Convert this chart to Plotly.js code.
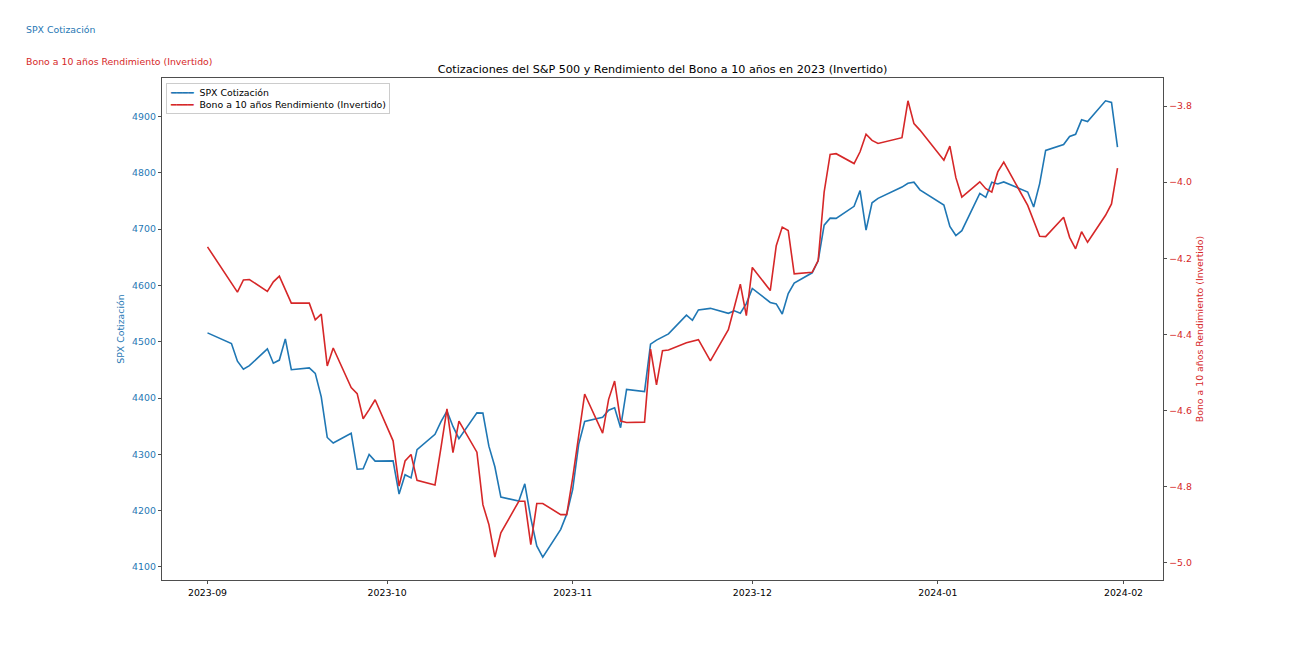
<!DOCTYPE html>
<html>
<head>
<meta charset="utf-8">
<script src="https://cdn.plot.ly/plotly-3.0.1.min.js"></script>
<style>
  html, body { margin: 0; padding: 0; background: #ffffff; }
  #chart { width: 1292px; height: 651px; }
</style>
</head>
<body>
<div id="chart"></div>
<script>
// ---- Data (trading days Sep 2023 - Jan 2024) ----
const fechas = [
  '2023-09-01','2023-09-05','2023-09-06','2023-09-07','2023-09-08','2023-09-11','2023-09-12','2023-09-13','2023-09-14','2023-09-15',
  '2023-09-18','2023-09-19','2023-09-20','2023-09-21','2023-09-22','2023-09-25','2023-09-26','2023-09-27','2023-09-28','2023-09-29',
  '2023-10-02','2023-10-03','2023-10-04','2023-10-05','2023-10-06','2023-10-09','2023-10-10','2023-10-11','2023-10-12','2023-10-13',
  '2023-10-16','2023-10-17','2023-10-18','2023-10-19','2023-10-20','2023-10-23','2023-10-24','2023-10-25','2023-10-26','2023-10-27',
  '2023-10-30','2023-10-31',
  '2023-11-01','2023-11-02','2023-11-03','2023-11-06','2023-11-07','2023-11-08','2023-11-09','2023-11-10','2023-11-13','2023-11-14',
  '2023-11-15','2023-11-16','2023-11-17','2023-11-20','2023-11-21','2023-11-22','2023-11-24','2023-11-27','2023-11-28','2023-11-29',
  '2023-11-30',
  '2023-12-01','2023-12-04','2023-12-05','2023-12-06','2023-12-07','2023-12-08','2023-12-11','2023-12-12','2023-12-13','2023-12-14',
  '2023-12-15','2023-12-18','2023-12-19','2023-12-20','2023-12-21','2023-12-22','2023-12-26','2023-12-27','2023-12-28','2023-12-29',
  '2024-01-02','2024-01-03','2024-01-04','2024-01-05','2024-01-08','2024-01-09','2024-01-10','2024-01-11','2024-01-12','2024-01-16',
  '2024-01-17','2024-01-18','2024-01-19','2024-01-22','2024-01-23','2024-01-24','2024-01-25','2024-01-26','2024-01-29','2024-01-30',
  '2024-01-31'
];

const spxCotizacion = [
  4515.77,4496.83,4465.48,4451.14,4457.49,4487.46,4461.90,4467.44,4505.10,4450.32,
  4453.53,4443.95,4402.20,4330.00,4320.06,4337.44,4273.53,4274.51,4299.70,4288.05,
  4288.39,4229.45,4263.75,4258.19,4308.50,4335.66,4358.24,4376.95,4349.61,4327.78,
  4373.63,4373.20,4314.60,4278.00,4224.16,4217.04,4247.68,4186.77,4137.23,4117.37,
  4166.82,4193.80,
  4237.86,4317.78,4358.34,4365.98,4378.38,4382.78,4347.35,4415.24,4411.55,4495.70,
  4502.88,4508.24,4514.02,4547.38,4538.19,4556.62,4559.34,4550.43,4554.89,4550.58,
  4567.80,
  4594.63,4569.78,4567.18,4549.34,4585.59,4604.37,4622.44,4643.70,4707.09,4719.55,
  4719.19,4740.56,4768.37,4698.35,4746.75,4754.63,4774.75,4781.58,4783.35,4769.83,
  4742.83,4704.81,4688.68,4697.24,4763.54,4756.50,4783.45,4780.24,4783.83,4765.98,
  4739.21,4780.94,4839.81,4850.43,4864.60,4868.55,4894.16,4890.97,4927.93,4924.97,
  4845.65
];

// 10-year yield, plotted inverted (negative values)
const bonoInvertido = [
  -4.170,-4.267,-4.289,-4.257,-4.256,-4.287,-4.262,-4.247,-4.283,-4.318,
  -4.318,-4.362,-4.347,-4.483,-4.436,-4.540,-4.556,-4.622,-4.598,-4.572,
  -4.680,-4.799,-4.733,-4.716,-4.784,-4.796,-4.698,-4.596,-4.711,-4.628,
  -4.710,-4.848,-4.900,-4.986,-4.922,-4.839,-4.839,-4.953,-4.845,-4.845,
  -4.874,-4.874,
  -4.777,-4.662,-4.557,-4.660,-4.571,-4.523,-4.628,-4.632,-4.631,-4.439,
  -4.533,-4.443,-4.441,-4.422,-4.417,-4.414,-4.470,-4.388,-4.328,-4.268,
  -4.351,
  -4.224,-4.285,-4.167,-4.118,-4.127,-4.241,-4.237,-4.206,-4.026,-3.927,
  -3.925,-3.951,-3.920,-3.874,-3.890,-3.898,-3.883,-3.786,-3.846,-3.863,
  -3.942,-3.905,-3.988,-4.039,-3.999,-4.017,-4.026,-3.973,-3.947,-4.061,
  -4.101,-4.142,-4.143,-4.092,-4.145,-4.175,-4.130,-4.158,-4.087,-4.057,
  -3.963
];

const nombreSPX = 'SPX Cotización';
const nombreBono = 'Bono a 10 años Rendimiento (Invertido)';
const titulo = 'Cotizaciones del S&P 500 y Rendimiento del Bono a 10 años en 2023 (Invertido)';

// ---- Styling ----
const AZUL = '#1f77b4';
const ROJO = '#d62728';
const FONT = 'DejaVu Sans, Verdana, sans-serif';
const TICK = 9.35;
const TITLE = 11.2;

function padRange(arr) {
  const mn = Math.min(...arr), mx = Math.max(...arr);
  const p = (mx - mn) * 0.05;
  return [mn - p, mx + p];
}
function padDateRange(arr) {
  const t = arr.map(d => new Date(d + 'T00:00:00Z').getTime());
  const mn = Math.min(...t), mx = Math.max(...t);
  const p = (mx - mn) * 0.05;
  const f = ms => new Date(ms).toISOString().replace('T', ' ').slice(0, 19);
  return [f(mn - p), f(mx + p)];
}

const traces = [
  {
    x: fechas, y: spxCotizacion, name: nombreSPX, type: 'scatter', mode: 'lines',
    line: { color: AZUL, width: 1.6 }, yaxis: 'y', hoverinfo: 'skip'
  },
  {
    x: fechas, y: bonoInvertido, name: nombreBono, type: 'scatter', mode: 'lines',
    line: { color: ROJO, width: 1.6 }, yaxis: 'y2', hoverinfo: 'skip'
  }
];

// legend box (matplotlib-style, compact) built as a bordered text annotation
const muestra = '━━━━';
const leyendaTexto =
  '<span style="color:' + AZUL + '">' + muestra + '</span>  ' + nombreSPX + '<br>' +
  '<span style="color:' + ROJO + '">' + muestra + '</span>  ' + nombreBono;

const layout = {
  width: 1292, height: 651,
  margin: { l: 162, r: 129, t: 78, b: 71, pad: 0 },
  paper_bgcolor: '#ffffff', plot_bgcolor: '#ffffff',
  font: { family: FONT, size: TICK, color: '#000' },
  showlegend: false,
  title: {
    text: titulo, font: { family: FONT, size: TITLE, color: '#000' },
    x: 0.5, xref: 'paper', xanchor: 'center',
    y: 1, yref: 'paper', yanchor: 'bottom', pad: { b: 5 }
  },
  xaxis: {
    type: 'date', range: padDateRange(fechas),
    tickformat: '%Y-%m', dtick: 'M1', tick0: '2023-09-01',
    ticks: 'outside', ticklen: 3.5, tickwidth: 0.8, tickcolor: '#222',
    tickfont: { family: FONT, size: TICK, color: '#000' },
    showgrid: false, zeroline: false,
    showline: true, mirror: true, linecolor: '#222', linewidth: 0.8
  },
  yaxis: {
    range: padRange(spxCotizacion), dtick: 100, tick0: 4000,
    ticks: 'outside', ticklen: 3.5, tickwidth: 0.8, tickcolor: '#222',
    tickfont: { family: FONT, size: TICK, color: AZUL },
    showgrid: false, zeroline: false,
    showline: true, linecolor: '#222', linewidth: 0.8,
    title: { text: nombreSPX, font: { family: FONT, size: TICK, color: AZUL }, standoff: 5 }
  },
  yaxis2: {
    overlaying: 'y', side: 'right',
    range: padRange(bonoInvertido), dtick: 0.2, tick0: -5, tickformat: '.1f',
    ticks: 'outside', ticklen: 3.5, tickwidth: 0.8, tickcolor: '#222',
    tickfont: { family: FONT, size: TICK, color: ROJO },
    showgrid: false, zeroline: false,
    showline: true, linecolor: '#222', linewidth: 0.8,
    title: { text: nombreBono, font: { family: FONT, size: TICK, color: ROJO }, standoff: 5 }
  },
  annotations: [
    { text: nombreSPX, xref: 'paper', yref: 'paper', x: -0.1379, y: 1.0976,
      xanchor: 'left', yanchor: 'middle', showarrow: false,
      font: { family: FONT, size: TICK, color: AZUL } },
    { text: nombreBono, xref: 'paper', yref: 'paper', x: -0.1379, y: 1.0319,
      xanchor: 'left', yanchor: 'middle', showarrow: false,
      font: { family: FONT, size: TICK, color: ROJO } },
    { text: leyendaTexto, xref: 'paper', yref: 'paper', x: 0.004, y: 0.99,
      xanchor: 'left', yanchor: 'top', align: 'left', showarrow: false,
      bgcolor: 'rgba(255,255,255,0.85)', bordercolor: '#cccccc', borderwidth: 1, borderpad: 3,
      font: { family: FONT, size: TICK, color: '#000' } }
  ]
};

Plotly.newPlot('chart', traces, layout, { displayModeBar: false, staticPlot: true });
</script>
</body>
</html>
